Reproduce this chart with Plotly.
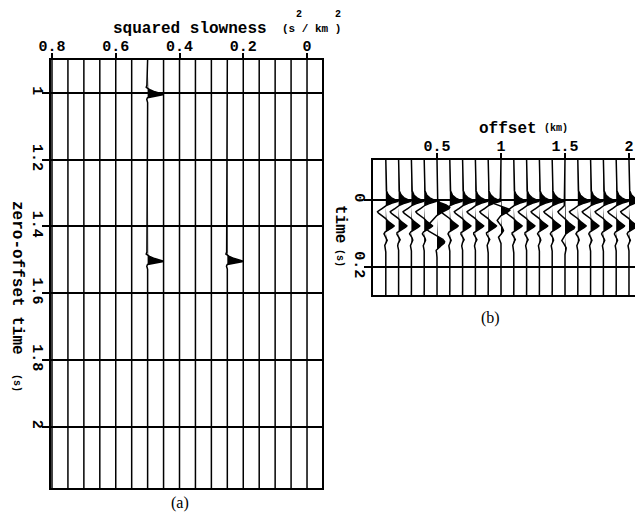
import numpy as np
import plotly.graph_objects as go

W, H = 635, 516
def px(x): return x / W
def py(y): return 1 - y / H

# ---------------- Panel (a): squared-slowness panel ----------------
slowness_traces = [0.8, 0.75, 0.7, 0.65, 0.6, 0.55, 0.5, 0.45, 0.4, 0.35,
                   0.3, 0.25, 0.2, 0.15, 0.1, 0.05, 0.0]
event_slowness = [0.5, 0.5, 0.25]
event_time = [1.0, 1.5, 1.5]
event_amp = [1.0, 1.0, 1.0]
# spike wavelet: relative time, amplitude (trace spacings), rise width, fall width, shape power
spike_t = [-0.018, 0.004, 0.018]
spike_amp = [-0.12, 1.0, -0.06]
spike_rise = [0.005, 0.009, 0.004]
spike_fall = [0.005, 0.005, 0.004]
spike_pow = [2, 1.5, 2]
a_xticks = [0.8, 0.6, 0.4, 0.2, 0.0]
a_xlabels = ["0.8", "0.6", "0.4", "0.2", "0"]
a_yticks = [1.0, 1.2, 1.4, 1.6, 1.8, 2.0]
a_ylabels = ["1", "1.2", "1.4", "1.6", "1.8", "2"]

# ---------------- Panel (b): offset panel ----------------
offset_traces = [0.1, 0.2, 0.3, 0.4, 0.5, 0.6, 0.7, 0.8, 0.9, 1.0,
                 1.1, 1.2, 1.3, 1.4, 1.5, 1.6, 1.7, 1.8, 1.9, 2.0]
normal_t = [0.003, 0.035, 0.077, 0.100, 0.118, 0.135]
normal_amp = [0.95, -0.65, 0.65, -0.15, 0.12, -0.08]
normal_rise = [0.012, 0.010, 0.012, 0.006, 0.006, 0.006]
normal_fall = [0.008, 0.012, 0.010, 0.006, 0.006, 0.006]
normal_pow = [1.1, 2, 2, 2, 2, 2]
odd_offsets = [0.5, 1.0, 1.5]
odd_t = [[0.022, 0.085, 0.125, 0.150],
         [0.008, 0.030, 0.060, 0.090, 0.110],
         [0.035, 0.082, 0.120, 0.145]]
odd_amp = [[1.0, -0.85, 0.6, -0.1],
           [-0.6, 0.7, -0.3, 0.2, -0.2],
           [-0.55, 0.75, -0.25, 0.1]]
odd_rise = [[0.012, 0.025, 0.015, 0.008],
            [0.008, 0.008, 0.010, 0.010, 0.008],
            [0.012, 0.015, 0.010, 0.008]]
odd_fall = [[0.015, 0.015, 0.015, 0.008],
            [0.008, 0.010, 0.010, 0.010, 0.008],
            [0.012, 0.013, 0.010, 0.008]]
b_xticks = [0.5, 1.0, 1.5, 2.0]
b_xlabels = ["0.5", "1", "1.5", "2"]
b_yticks = [0.0, 0.2]
b_ylabels = ["0", "0.2"]


def wave(t, centers, amps, rises, falls, pows=None):
    w = np.zeros_like(t)
    if pows is None:
        pows = [2] * len(centers)
    for c, a, r, f, p in zip(centers, amps, rises, falls, pows):
        d = t - c
        s = np.where(d < 0, r, f)
        pp = np.where(d < 0, p, 2)
        w += a * np.exp(-(np.abs(d) / s) ** pp)
    return w


fig = go.Figure()


def add_wiggle(x0, t, w, scale, xa, ya):
    xl = x0 + scale * w
    xf = x0 + scale * np.maximum(w, 0)
    if np.any(w > 0.01):
        fig.add_trace(go.Scatter(
            x=np.concatenate([xf, [x0, x0]]),
            y=np.concatenate([t, [t[-1], t[0]]]),
            fill="toself", fillcolor="black", mode="lines",
            line=dict(width=0, color="black"), hoverinfo="skip",
            xaxis=xa, yaxis=ya))
    fig.add_trace(go.Scatter(x=xl, y=t, mode="lines",
                             line=dict(color="black", width=1.5),
                             hoverinfo="skip", xaxis=xa, yaxis=ya))


# panel (a) wiggles
ta = np.linspace(0.90, 2.19, 2600)
for s in slowness_traces:
    w = np.zeros_like(ta)
    for es, et, ea in zip(event_slowness, event_time, event_amp):
        if abs(es - s) < 1e-9:
            w += ea * wave(ta - et, spike_t, spike_amp, spike_rise, spike_fall, spike_pow)
    add_wiggle(s, ta, w, -0.05, "x", "y")

# panel (b) wiggles
tb = np.linspace(-0.12, 0.285, 1200)
for off in offset_traces:
    match = [i for i, o in enumerate(odd_offsets) if abs(o - off) < 1e-9]
    if match:
        i = match[0]
        w = wave(tb, odd_t[i], odd_amp[i], odd_rise[i], odd_fall[i])
    else:
        w = wave(tb, normal_t, normal_amp, normal_rise, normal_fall, normal_pow)
    add_wiggle(off, tb, w, 0.1, "x2", "y2")

mono = "Liberation Mono"
tickfont = dict(family=mono, size=15, color="black", weight="bold")
axcommon = dict(showline=True, mirror=True, linecolor="black", linewidth=1.5,
                ticks="outside", tickcolor="black", tickwidth=1.5,
                zeroline=False, tickfont=tickfont, automargin=False)

fig.update_layout(
    width=W, height=516,
    margin=dict(l=0, r=0, t=0, b=0, autoexpand=False),
    paper_bgcolor="white", plot_bgcolor="white", showlegend=False,
    xaxis=dict(domain=[px(51), px(322)], range=[0.8031, -0.047], side="top",
               anchor="y", tickvals=a_xticks, ticktext=a_xlabels, ticklen=5,
               ticklabelstandoff=-4, showgrid=False, **axcommon),
    yaxis=dict(domain=[py(488), py(60)], range=[2.184, 0.901], anchor="x",
               tickvals=a_yticks, ticktext=a_ylabels, tickangle=90, ticklen=7,
               ticklabelstandoff=-9,
               showgrid=True, gridcolor="black", gridwidth=2, **axcommon),
    xaxis2=dict(domain=[px(373), 1.0], range=[0, 2.047], side="top",
                anchor="y2", tickvals=b_xticks, ticktext=b_xlabels, ticklen=5,
                ticklabelstandoff=-4, showgrid=False, **axcommon),
    yaxis2=dict(domain=[py(295), py(160)], range=[0.2836, -0.1194], anchor="x2",
                tickvals=b_yticks, ticktext=b_ylabels, tickangle=90, ticklen=7,
                ticklabelstandoff=-9,
                showgrid=True, gridcolor="black", gridwidth=2, **axcommon),
)


def ann(text, x, y, size, family=mono, angle=0, weight="bold"):
    fig.add_annotation(text=text, x=px(x), y=py(y), xref="paper", yref="paper",
                       showarrow=False, textangle=angle,
                       font=dict(family=family, size=size, color="black", weight=weight),
                       xanchor="center", yanchor="middle")


ann("squared slowness", 190, 29, 16)
ann("(s / km )", 311, 29, 11)
ann("2", 299, 14, 10)
ann("2", 338, 14, 10)
ann("zero-offset time", 17, 278, 16, angle=90)
ann("(s)", 17, 383, 10, angle=90)
ann("offset", 508, 129, 16)
ann("(km)", 556, 128, 10)
ann("time", 340, 224, 16, angle=90)
ann("(s)", 340, 258, 10, angle=90)
ann("(a)", 180, 503, 16, family="Liberation Serif", weight="normal")
ann("(b)", 490, 318, 16, family="Liberation Serif", weight="normal")

fig.write_html("out.html")
